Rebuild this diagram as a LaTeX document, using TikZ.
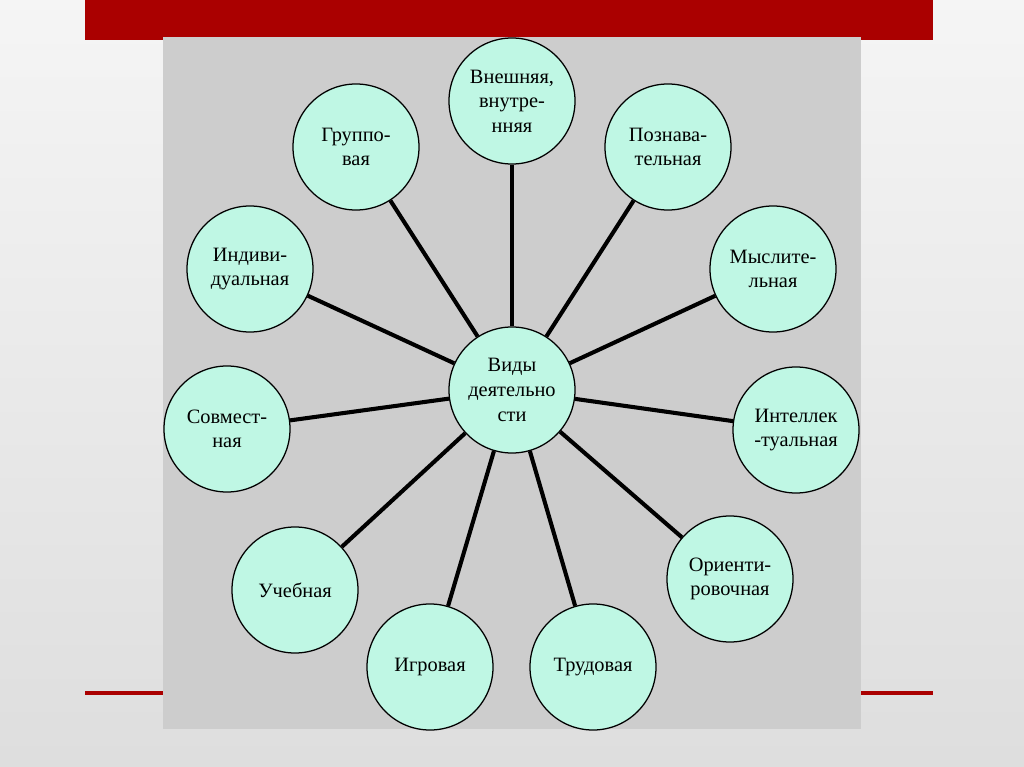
\documentclass[tikz,border=0pt]{standalone}
\usepackage{fontspec}
\setmainfont{Liberation Serif}
\usetikzlibrary{positioning}
\usepackage{xcolor}
\definecolor{slidered}{RGB}{170, 0, 0}
\definecolor{panelgray}{RGB}{205, 205, 205}
\definecolor{mintfill}{RGB}{191, 247, 228}
\tikzset{
  vcirc/.style={
    circle, draw=black, line width=0.9pt, fill=mintfill,
    minimum size=3.15cm, inner sep=0pt, align=center,
    font=\fontsize{14.5}{17.5}\selectfont
  },
  spoke/.style={line width=2.9pt, color=black},
  redrule/.style={line width=2.2pt, color=slidered},
}

\begin{document}
\begin{tikzpicture}[x=0.025cm, y=-0.025cm]
        \useasboundingbox (0,0) rectangle (1024,767);
        \shade[top color=white!96!black, bottom color=white!87!black] (0,0) rectangle (1024,767);
        \fill[slidered] (85,0) rectangle (933,40);
        \fill[panelgray] (163,37) rectangle (861,729);
        \draw[redrule] (85,693) -- (163,693);
        \draw[redrule] (861,693) -- (933,693);

        \node[vcirc] (vid) at (512,390) {Виды\\деятельно\\сти};
        \node[vcirc] (vne) at (512,101) {Внешняя,\\внутре-\\нняя};
        \node[vcirc] (gru) at (356,147) {Группо-\\вая};
        \node[vcirc] (poz) at (668,147) {Познава-\\тельная};
        \node[vcirc] (ind) at (250,269) {Индиви-\\дуальная};
        \node[vcirc] (mys) at (773,269) {Мыслите-\\льная};
        \node[vcirc] (sov) at (227,429) {Совмест-\\ная};
        \node[vcirc] (int) at (796,430) {Интеллек\\-туальная};
        \node[vcirc] (ucb) at (295,590) {Учебная};
        \node[vcirc] (ori) at (730,579) {Ориенти-\\ровочная};
        \node[vcirc] (igr) at (430,667) {Игровая};
        \node[vcirc] (tru) at (593,667) {Трудовая};

        \foreach \n in {vne,gru,poz,ind,mys,sov,int,ucb,ori,igr,tru}
          \draw[spoke] (vid) -- (\n);
      \end{tikzpicture}
\end{document}
